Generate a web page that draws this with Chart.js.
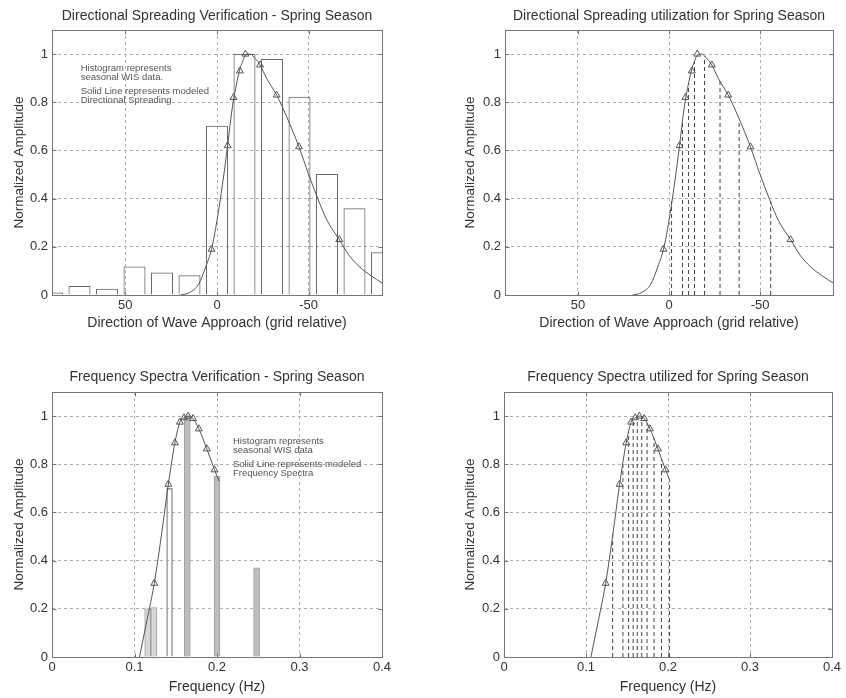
<!DOCTYPE html>
<html>
<head>
<meta charset="utf-8">
<script src="https://cdn.jsdelivr.net/npm/chart.js@4.4.1/dist/chart.umd.min.js"></script>
<style>
  body { margin: 0; background: #fff; }
  #wrap { position: relative; width: 846px; height: 698px; }
  canvas { position: absolute; }
</style>
</head>
<body>
<div id="wrap">
  <canvas id="tl" width="423" height="340" style="left:0;top:0"></canvas>
  <canvas id="tr" width="423" height="340" style="left:423px;top:0"></canvas>
  <canvas id="bl" width="423" height="358" style="left:0;top:340px"></canvas>
  <canvas id="br" width="423" height="358" style="left:423px;top:340px"></canvas>
</div>
<script>
// directional spreading (deg, grid relative) - histogram of WIS data
const dirBins = [90, 75, 60, 45, 30, 15, 0, -15, -30, -45, -60, -75, -90];
const dirHist = [0.01, 0.037, 0.026, 0.118, 0.093, 0.082, 0.703, 1.0, 0.98, 0.823, 0.502, 0.36, 0.177];

// modeled spreading curve
const dirCurveX = [20, 15, 10, 6, 3, 0, -3, -5.8, -7.5, -9, -10.5, -12.2, -14, -15.5, -18, -21, -23.5, -27, -32.5, -38, -44.7, -50, -55, -60, -66.7, -72, -78, -84, -90];
const dirCurveY = [0, 0.01, 0.045, 0.12, 0.19, 0.31, 0.46, 0.62, 0.73, 0.81, 0.87, 0.93, 0.97, 0.995, 1.0, 0.98, 0.955, 0.9, 0.83, 0.74, 0.615, 0.5, 0.4, 0.31, 0.23, 0.165, 0.115, 0.08, 0.05];

// triangles (directions used)
const dirTriX = [3, -5.8, -9, -12.5, -15.5, -23.5, -32.5, -44.7, -66.7];
const dirTriY = [0.19, 0.62, 0.82, 0.93, 1.0, 0.955, 0.83, 0.615, 0.23];

// bin edges (dashed lines, utilization plot)
const dirEdgeX = [-1.4, -7.4, -10.75, -14, -19.5, -28, -38.5, -55.8];
const dirEdgeY = [0.39, 0.72, 0.88, 0.97, 0.99, 0.89, 0.72, 0.39];

// frequency histogram of WIS data
const freqHistX = [0.116, 0.1235, 0.1425, 0.164, 0.2, 0.248];
const freqHistY = [0.2, 0.205, 0.70, 1.0, 0.75, 0.37];

// modeled frequency spectrum
const freqCurveX = [0.106, 0.112, 0.118, 0.124, 0.1328, 0.141, 0.149, 0.155, 0.160, 0.165, 0.171, 0.178, 0.1877, 0.197, 0.2025];
const freqCurveY = [0, 0.1, 0.2, 0.306, 0.51, 0.717, 0.889, 0.975, 0.993, 1.0, 0.99, 0.947, 0.864, 0.777, 0.73];

const freqTriX = [0.124, 0.141, 0.149, 0.155, 0.160, 0.165, 0.171, 0.178, 0.1877, 0.197];
const freqTriY = [0.306, 0.717, 0.889, 0.975, 0.993, 1.0, 0.99, 0.947, 0.864, 0.777];

const freqEdgeX = [0.1325, 0.145, 0.152, 0.1575, 0.1625, 0.168, 0.1745, 0.183, 0.192, 0.2019];
const freqEdgeY = [0.52, 0.81, 0.935, 0.985, 0.998, 0.997, 0.97, 0.91, 0.82, 0.73];

// tick labels
const yTicks = [0, 0.2, 0.4, 0.6, 0.8, 1];
const dirTicks = [-50, 0, 50];
const freqTicks = [0, 0.1, 0.2, 0.3, 0.4];

Chart.defaults.font.family = "'Liberation Sans', Arial, sans-serif";
Chart.defaults.font.size = 13;
Chart.defaults.color = '#333';

const pts = (xs, ys) => xs.map((x, i) => ({ x: x, y: ys[i] }));
const drops = (xs, ys) => xs.flatMap((x, i) => [{ x: x, y: 0 }, { x: x, y: ys[i] }, { x: x, y: null }]);

// box round the axes + inward tick marks (matlab look)
const framePlugin = {
  id: 'frame',
  afterDatasetsDraw(chart) {
    const { ctx, chartArea: a, scales: { x, y } } = chart;
    const l = Math.round(a.left) + 0.5, r = Math.round(a.right) + 0.5;
    const t = Math.round(a.top) + 0.5, b = Math.round(a.bottom) + 0.5;
    ctx.save();
    ctx.strokeStyle = '#777';
    ctx.lineWidth = 1;
    ctx.strokeRect(l, t, r - l, b - t);
    ctx.beginPath();
    x.ticks.forEach(tk => {
      const px = Math.round(x.getPixelForValue(tk.value)) + 0.5;
      ctx.moveTo(px, b); ctx.lineTo(px, b - 4);
      ctx.moveTo(px, t); ctx.lineTo(px, t + 4);
    });
    y.ticks.forEach(tk => {
      const py = Math.round(y.getPixelForValue(tk.value)) + 0.5;
      ctx.moveTo(l, py); ctx.lineTo(l + 4, py);
      ctx.moveTo(r, py); ctx.lineTo(r - 4, py);
    });
    ctx.stroke();
    ctx.restore();
  }
};

// small text box inside the axes
const notesPlugin = {
  id: 'notes',
  afterDraw(chart, args, opts) {
    if (!opts || !opts.lines) return;
    const { ctx, chartArea: a } = chart;
    ctx.save();
    ctx.font = "9.5px 'Liberation Sans', Arial, sans-serif";
    ctx.fillStyle = '#555';
    ctx.textBaseline = 'middle';
    opts.lines.forEach((s, i) => {
      const dy = i * 9.5 + (i >= 2 ? 4 : 0);
      ctx.fillText(s, a.left + opts.x, a.top + opts.y + dy);
    });
    ctx.restore();
  }
};

function panel(id, o) {
  new Chart(document.getElementById(id), {
    type: 'line',
    data: { datasets: o.datasets },
    options: {
      responsive: false,
      animation: false,
      events: [],
      layout: { padding: { left: 0, top: 0, bottom: 0, right: o.padRight } },
      plugins: {
        legend: { display: false },
        tooltip: { enabled: false },
        title: {
          display: true, text: o.title, fullSize: false, color: '#333',
          font: { size: 14, weight: 'normal' },
          padding: { top: o.titleTop, bottom: o.titleBottom }
        },
        notes: o.notes || {}
      },
      scales: {
        x: {
          type: 'linear', min: o.xMin, max: o.xMax, reverse: !!o.reverse, offset: false,
          afterBuildTicks: s => { s.ticks = o.xTicks.map(v => ({ value: v })); },
          afterFit: s => { s.height = o.xHeight; },
          grid: { color: '#b0b0b0', drawTicks: false, offset: false },
          border: { display: false, dash: [3, 3] },
          ticks: { padding: 3, autoSkip: false, maxRotation: 0, callback: v => String(v) },
          title: { display: true, text: o.xTitle, font: { size: 14 }, padding: { top: 0, bottom: o.xTitlePad } }
        },
        y: {
          type: 'linear', min: 0, max: 1.1,
          afterBuildTicks: s => { s.ticks = yTicks.map(v => ({ value: v })); },
          afterFit: s => { s.width = o.yWidth; },
          grid: { color: '#b0b0b0', drawTicks: false, offset: false },
          border: { display: false, dash: [3, 3] },
          ticks: { padding: 4, autoSkip: false, callback: v => String(v) },
          title: { display: true, text: 'Normalized Amplitude', font: { size: 13.5 }, padding: { top: o.yTitlePad, bottom: 0 } }
        }
      }
    },
    plugins: [framePlugin, notesPlugin]
  });
}

const curveDs = (xs, ys) => ({
  type: 'line', data: pts(xs, ys), borderColor: '#555', borderWidth: 1,
  pointRadius: 0, cubicInterpolationMode: 'monotone', order: 1
});
const triDs = (xs, ys) => ({
  type: 'line', data: pts(xs, ys), showLine: false, pointStyle: 'triangle',
  pointRadius: 4, borderColor: '#555', borderWidth: 1,
  pointBackgroundColor: 'rgba(255,255,255,0)', order: 0
});
const dropDs = (xs, ys) => ({
  type: 'line', data: drops(xs, ys), borderColor: '#444', borderWidth: 1,
  borderDash: [4, 3], pointRadius: 0, spanGaps: false, order: 2
});

// top left
panel('tl', {
  title: 'Directional Spreading Verification - Spring Season',
  titleTop: 7.3, titleBottom: 5.9, padRight: 41,
  xMin: -90, xMax: 90, reverse: true, xTicks: dirTicks, xHeight: 45, xTitlePad: 8.6,
  xTitle: 'Direction of Wave Approach (grid relative)',
  yWidth: 52, yTitlePad: 10.9,
  notes: { x: 28.7, y: 38, lines: ['Histogram represents', 'seasonal WIS data.', 'Solid Line represents modeled', 'Directional Spreading'] },
  datasets: [
    { type: 'bar', data: pts(dirBins, dirHist), backgroundColor: 'rgba(255,255,255,0)',
      borderColor: '#6a6a6a', borderWidth: 1, barPercentage: 0.8, categoryPercentage: 1, order: 3 },
    curveDs(dirCurveX, dirCurveY),
    triDs(dirTriX, dirTriY)
  ]
});

// top right
panel('tr', {
  title: 'Directional Spreading utilization for Spring Season',
  titleTop: 7.3, titleBottom: 5.9, padRight: 13,
  xMin: -90, xMax: 90, reverse: true, xTicks: dirTicks, xHeight: 45, xTitlePad: 8.6,
  xTitle: 'Direction of Wave Approach (grid relative)',
  yWidth: 82, yTitlePad: 39.6,
  datasets: [
    dropDs(dirEdgeX, dirEdgeY),
    curveDs(dirCurveX, dirCurveY),
    triDs(dirTriX, dirTriY)
  ]
});

// bottom left
panel('bl', {
  title: 'Frequency Spectra Verification - Spring Season',
  titleTop: 28.9, titleBottom: 6.3, padRight: 41,
  xMin: 0, xMax: 0.4, xTicks: freqTicks, xHeight: 41, xTitlePad: 2.6,
  xTitle: 'Frequency (Hz)',
  yWidth: 52, yTitlePad: 10.9,
  notes: { x: 181, y: 49, lines: ['Histogram represents', 'seasonal WIS data', 'Solid Line represents modeled', 'Frequency Spectra'] },
  datasets: [
    { type: 'bar', data: pts(freqHistX, freqHistY),
      backgroundColor: ['#d8d8d8', '#d8d8d8', 'rgba(255,255,255,0)', '#bdbdbd', '#bdbdbd', '#bdbdbd'],
      borderColor: '#a0a0a0', borderWidth: 1, barThickness: 6, order: 3 },
    curveDs(freqCurveX, freqCurveY),
    triDs(freqTriX, freqTriY)
  ]
});

// bottom right
panel('br', {
  title: 'Frequency Spectra utilized for Spring Season',
  titleTop: 28.9, titleBottom: 6.3, padRight: 14,
  xMin: 0, xMax: 0.4, xTicks: freqTicks, xHeight: 41, xTitlePad: 2.6,
  xTitle: 'Frequency (Hz)',
  yWidth: 81, yTitlePad: 39.6,
  datasets: [
    dropDs(freqEdgeX, freqEdgeY),
    curveDs(freqCurveX, freqCurveY),
    triDs(freqTriX, freqTriY)
  ]
});
</script>
</body>
</html>
